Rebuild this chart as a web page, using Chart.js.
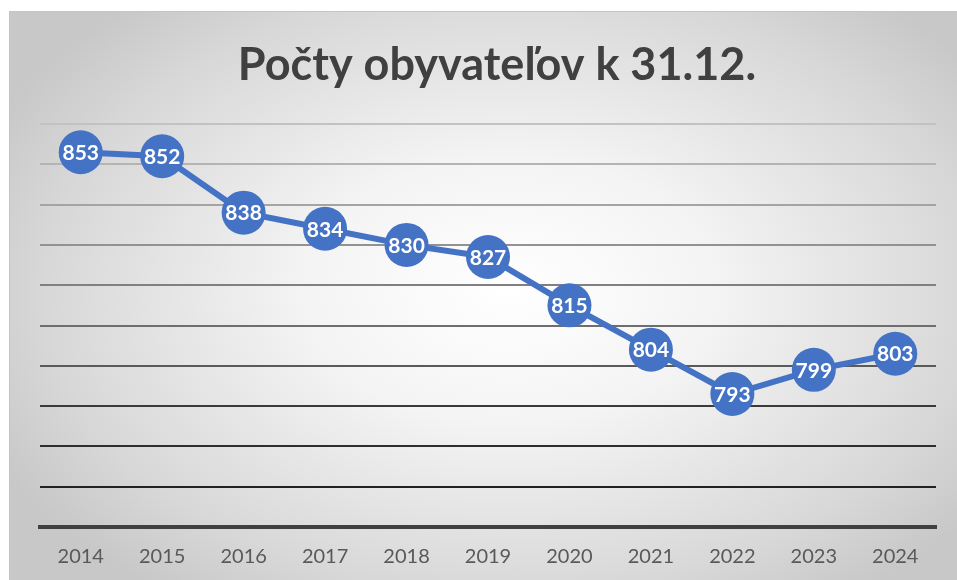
<!DOCTYPE html>
<html>
<head>
<meta charset="utf-8">
<script src="https://cdn.jsdelivr.net/npm/chart.js@4"></script>
<style>
  html, body { margin: 0; padding: 0; background: #fff; }
  body { width: 957px; height: 580px; position: relative; overflow: hidden; }
  #frame {
    position: absolute; left: 9px; top: 11px; width: 960px; height: 580px;
    border-top: 1px solid #c4c4c4; border-left: 1px solid #c4c4c4;
    background: radial-gradient(ellipse 60% 65% at 52% 48%, #ffffff 0%, #f4f4f4 35%, #d8d8d8 80%, #c8c8c8 100%);
  }
  #wrap { position: absolute; left: 0; top: 0; width: 948px; height: 569px; }
</style>
</head>
<body>
<div id="frame">
  <div id="wrap"><canvas id="myChart"></canvas></div>
</div>
<script>
var years = ['2014', '2015', '2016', '2017', '2018', '2019', '2020', '2021', '2022', '2023', '2024'];
var residents = [853, 852, 838, 834, 830, 827, 815, 804, 793, 799, 803];
var gridColors = ['#404040', '#222222', '#2e2e2e', '#3a3a3a', '#5a5a5a', '#6e6e6e', '#808080', '#929292', '#a4a4a4', '#b4b4b4', '#c2c2c2'];

// draws the white numbers inside the circles
var pointLabels = {
    id: 'pointLabels',
    afterDatasetsDraw: function (chart) {
        var ctx = chart.ctx;
        var meta = chart.getDatasetMeta(0);
        ctx.save();
        ctx.fillStyle = '#ffffff';
        ctx.font = 'bold 21px Lato';
        ctx.textAlign = 'center';
        ctx.textBaseline = 'middle';
        meta.data.forEach(function (pt, i) {
            ctx.fillText(residents[i], pt.x, pt.y + 1);
        });
        ctx.restore();
    }
};

document.addEventListener('DOMContentLoaded', function () {
    var ctx = document.getElementById('myChart').getContext('2d');
    var myChart = new Chart(ctx, {
        type: 'line',
        data: {
            labels: years,
            datasets: [{
                label: 'Počty obyvateľov',
                data: residents,
                borderColor: '#4472C4',
                backgroundColor: '#4472C4',
                borderWidth: 6,
                pointRadius: 22,
                pointHoverRadius: 22,
                pointBorderWidth: 0,
                tension: 0,
                clip: false
            }]
        },
        options: {
            responsive: true,
            maintainAspectRatio: false,
            animation: false,
            layout: { padding: { left: 30, right: 4, top: 14, bottom: 2 } },
            plugins: {
                legend: { display: false },
                tooltip: { enabled: false },
                title: {
                    display: true,
                    text: 'Počty obyvateľov k 31.12.',
                    color: '#404040',
                    font: { family: 'Lato', size: 45, weight: 'bold' },
                    padding: { top: 12, bottom: 32 }
                }
            },
            scales: {
                x: {
                    offset: true,
                    grid: { display: false },
                    border: { display: true, color: '#404040', width: 4 },
                    ticks: { color: '#595959', font: { family: 'Lato', size: 20 }, padding: 10 }
                },
                y: {
                    min: 760,
                    max: 860,
                    ticks: { display: false, stepSize: 10 },
                    border: { display: false },
                    grid: {
                        drawTicks: false,
                        lineWidth: 2,
                        color: function (c) { return gridColors[c.index] || '#c2c2c2'; }
                    }
                }
            }
        },
        plugins: [pointLabels]
    });
});
</script>
</body>
</html>
